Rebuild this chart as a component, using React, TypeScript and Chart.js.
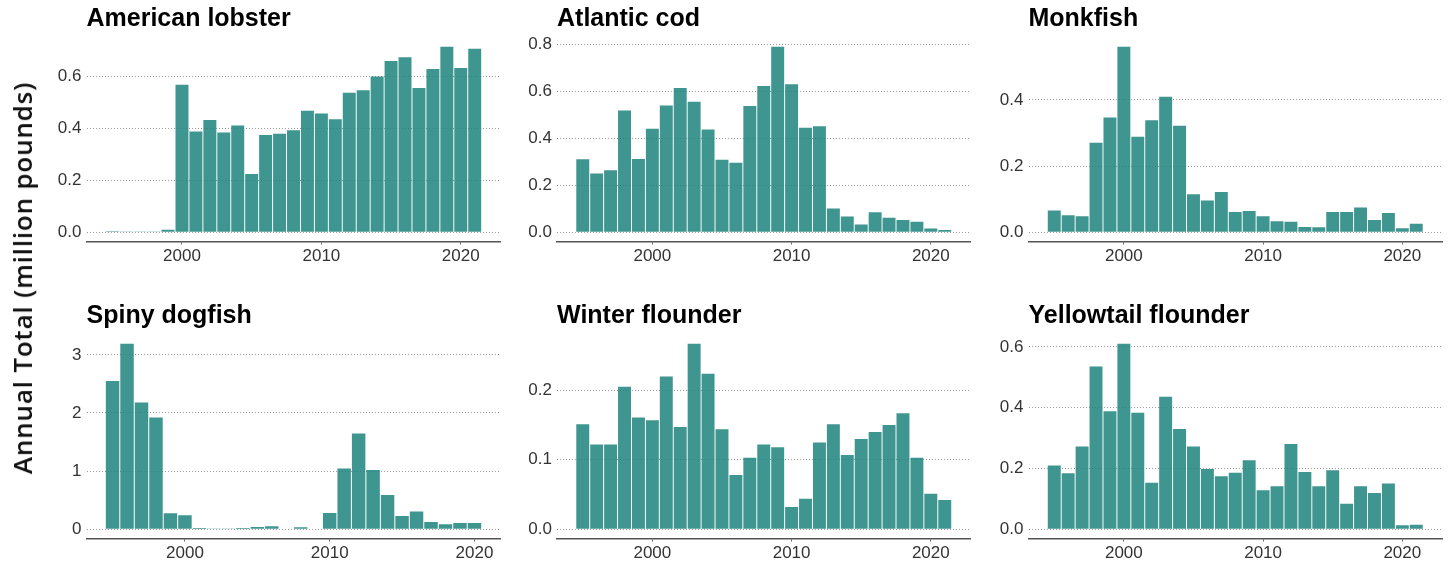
import React, { useEffect, useRef } from 'react';
import { Chart, registerables } from 'chart.js';

Chart.register(...registerables);

// ---------- DATA ----------
const YEARS = [1995, 1996, 1997, 1998, 1999, 2000, 2001, 2002, 2003, 2004, 2005, 2006, 2007, 2008, 2009, 2010, 2011, 2012, 2013, 2014, 2015, 2016, 2017, 2018, 2019, 2020, 2021];
const YEARS_DOGFISH = [1995, 1996, 1997, 1998, 1999, 2000, 2001, 2002, 2003, 2004, 2005, 2006, 2007, 2008, 2009, 2010, 2011, 2012, 2013, 2014, 2015, 2016, 2017, 2018, 2019, 2020];

const LOBSTER = [0.004, 0.0008, 0.0008, 0.0008, 0.01, 0.568, 0.388, 0.432, 0.384, 0.411, 0.224, 0.374, 0.379, 0.393, 0.468, 0.457, 0.435, 0.537, 0.547, 0.6, 0.659, 0.674, 0.555, 0.628, 0.714, 0.632, 0.706];
const COD = [0.311, 0.25, 0.264, 0.519, 0.312, 0.441, 0.54, 0.614, 0.556, 0.438, 0.309, 0.296, 0.538, 0.623, 0.79, 0.63, 0.445, 0.451, 0.101, 0.067, 0.033, 0.085, 0.062, 0.052, 0.045, 0.016, 0.01];
const MONKFISH = [0.066, 0.051, 0.048, 0.271, 0.347, 0.561, 0.289, 0.339, 0.41, 0.322, 0.115, 0.096, 0.122, 0.061, 0.064, 0.048, 0.033, 0.032, 0.016, 0.015, 0.061, 0.061, 0.075, 0.037, 0.058, 0.012, 0.026];
const DOGFISH = [2.55, 3.19, 2.18, 1.92, 0.274, 0.24, 0.023, 0.006, 0.003, 0.02, 0.04, 0.05, 0.0, 0.035, 0.0, 0.28, 1.046, 1.646, 1.017, 0.589, 0.229, 0.303, 0.126, 0.086, 0.109, 0.109];
const WINTER = [0.151, 0.122, 0.122, 0.205, 0.161, 0.157, 0.22, 0.147, 0.267, 0.224, 0.144, 0.078, 0.103, 0.122, 0.118, 0.032, 0.044, 0.125, 0.151, 0.107, 0.13, 0.14, 0.15, 0.167, 0.103, 0.051, 0.042];
const YELLOWTAIL = [0.21, 0.184, 0.272, 0.535, 0.388, 0.61, 0.383, 0.153, 0.436, 0.33, 0.272, 0.198, 0.174, 0.186, 0.227, 0.128, 0.141, 0.28, 0.188, 0.141, 0.194, 0.084, 0.141, 0.119, 0.15, 0.013, 0.015];

const X_TICKS = [2000, 2010, 2020];
const X_TICK_LABELS = ['2000', '2010', '2020'];

const Y_TICKS_LOBSTER = [0, 0.2, 0.4, 0.6];
const Y_LABELS_LOBSTER = ['0.0', '0.2', '0.4', '0.6'];
const Y_TICKS_COD = [0, 0.2, 0.4, 0.6, 0.8];
const Y_LABELS_COD = ['0.0', '0.2', '0.4', '0.6', '0.8'];
const Y_TICKS_MONKFISH = [0, 0.2, 0.4];
const Y_LABELS_MONKFISH = ['0.0', '0.2', '0.4'];
const Y_TICKS_DOGFISH = [0, 1, 2, 3];
const Y_LABELS_DOGFISH = ['0', '1', '2', '3'];
const Y_TICKS_WINTER = [0, 0.1, 0.2];
const Y_LABELS_WINTER = ['0.0', '0.1', '0.2'];
const Y_TICKS_YELLOWTAIL = [0, 0.2, 0.4, 0.6];
const Y_LABELS_YELLOWTAIL = ['0.0', '0.2', '0.4', '0.6'];

const TITLES = ['American lobster', 'Atlantic cod', 'Monkfish', 'Spiny dogfish', 'Winter flounder', 'Yellowtail flounder'];
const Y_AXIS_TITLE = 'Annual Total (million pounds)';

// ---------- LAYOUT / STYLE ----------
const BAR_COLOR = 'rgba(29,131,123,0.85)';
const FONT = "'Liberation Sans', Arial, Helvetica, sans-serif";
const COLS = [
  { canvasLeft: 30, areaLeft: 86.5, areaRight: 500.5, width: 476 },
  { canvasLeft: 505, areaLeft: 557, areaRight: 970.5, width: 472 },
  { canvasLeft: 977, areaLeft: 1028.5, areaRight: 1442, width: 473 },
];
const ROW_TOPS = [0, 296.5];
const CANVAS_H = 266;
const AREA_BOTTOM = 241.5;

const titleLeftPlugin = {
  id: 'titleLeft',
  afterLayout(chart: any) {
    if (chart.titleBlock) {
      chart.titleBlock.left = chart.chartArea.left;
    }
  },
};

type PanelProps = {
  title: string;
  years: number[];
  values: number[];
  yTicks: number[];
  yLabels: string[];
  col: number;
  row: number;
};

function Panel({ title, years, values, yTicks, yLabels, col, row }: PanelProps) {
  const ref = useRef<HTMLCanvasElement | null>(null);
  const c = COLS[col];
  useEffect(() => {
    if (!ref.current) return;
    const maxV = Math.max(...values);
    const n = years.length;
    const xMin = years[0] - 0.5 - 0.05 * n;
    const xMax = years[n - 1] + 0.5 + 0.05 * n;
    const yAxisW = c.areaLeft - c.canvasLeft;
    const rightPad = c.width - (c.areaRight - c.canvasLeft);
    const chart = new Chart(ref.current, {
      type: 'bar',
      data: {
        datasets: [
          {
            data: years.map((yr, i) => ({ x: yr, y: values[i] })),
            backgroundColor: BAR_COLOR,
            borderWidth: 0,
            barPercentage: 0.93,
            categoryPercentage: 1,
          },
        ],
      },
      options: {
        animation: false,
        responsive: false,
        devicePixelRatio: 1,
        layout: { padding: { left: 0, right: rightPad, top: 0, bottom: 0 } },
        plugins: {
          legend: { display: false },
          tooltip: { enabled: false },
          title: {
            display: true,
            text: title,
            align: 'start',
            color: '#000',
            font: { family: FONT, size: 25, weight: 'bold', lineHeight: 1.2 },
            padding: { top: 3.7, bottom: 3.8 },
          },
        },
        scales: {
          x: {
            type: 'linear',
            min: xMin,
            max: xMax,
            offset: false,
            afterBuildTicks: (s: any) => {
              s.ticks = X_TICKS.map((v) => ({ value: v }));
            },
            afterFit: (s: any) => {
              s.height = CANVAS_H - AREA_BOTTOM;
            },
            ticks: {
              autoSkip: false,
              maxRotation: 0,
              padding: 2,
              color: '#333',
              font: { family: FONT, size: 17 },
              callback: (_v: any, i: number) => X_TICK_LABELS[i],
            },
            grid: {
              display: true,
              drawOnChartArea: false,
              drawTicks: true,
              tickLength: 3,
              tickColor: '#666',
              offset: false,
            },
            border: { display: true, color: '#555', width: 1.5 },
          },
          y: {
            min: -0.05 * maxV,
            max: 1.05 * maxV,
            afterBuildTicks: (s: any) => {
              s.ticks = yTicks.map((v) => ({ value: v }));
            },
            afterFit: (s: any) => {
              s.width = yAxisW;
            },
            ticks: {
              padding: 5,
              color: '#333',
              font: { family: FONT, size: 17 },
              callback: (_v: any, i: number) => yLabels[i],
            },
            grid: { color: '#9a9a9a', lineWidth: 1, drawTicks: false },
            border: { display: false, dash: [1, 2] },
          },
        },
      },
      plugins: [titleLeftPlugin],
    } as any);
    return () => chart.destroy();
  }, []);
  return (
    <canvas
      ref={ref}
      width={c.width}
      height={CANVAS_H}
      style={{ position: 'absolute', left: c.canvasLeft, top: ROW_TOPS[row], width: c.width, height: CANVAS_H }}
    />
  );
}

export default function App() {
  return (
    <div style={{ position: 'absolute', left: 0, top: 0, width: 1450, height: 563, overflow: 'hidden', background: '#fff' }}>
      <Panel title={TITLES[0]} years={YEARS} values={LOBSTER} yTicks={Y_TICKS_LOBSTER} yLabels={Y_LABELS_LOBSTER} col={0} row={0} />
      <Panel title={TITLES[1]} years={YEARS} values={COD} yTicks={Y_TICKS_COD} yLabels={Y_LABELS_COD} col={1} row={0} />
      <Panel title={TITLES[2]} years={YEARS} values={MONKFISH} yTicks={Y_TICKS_MONKFISH} yLabels={Y_LABELS_MONKFISH} col={2} row={0} />
      <Panel title={TITLES[3]} years={YEARS_DOGFISH} values={DOGFISH} yTicks={Y_TICKS_DOGFISH} yLabels={Y_LABELS_DOGFISH} col={0} row={1} />
      <Panel title={TITLES[4]} years={YEARS} values={WINTER} yTicks={Y_TICKS_WINTER} yLabels={Y_LABELS_WINTER} col={1} row={1} />
      <Panel title={TITLES[5]} years={YEARS} values={YELLOWTAIL} yTicks={Y_TICKS_YELLOWTAIL} yLabels={Y_LABELS_YELLOWTAIL} col={2} row={1} />
      <div
        style={{
          position: 'absolute',
          left: 21.5,
          top: 277.5,
          transform: 'translate(-50%, -50%) rotate(-90deg)',
          whiteSpace: 'nowrap',
          fontFamily: "'Open Sans', 'Lato', sans-serif",
          fontWeight: 600,
          fontSize: 26,
          letterSpacing: 0.8,
          color: '#111',
          lineHeight: 1,
        }}
      >
        {Y_AXIS_TITLE}
      </div>
    </div>
  );
}
